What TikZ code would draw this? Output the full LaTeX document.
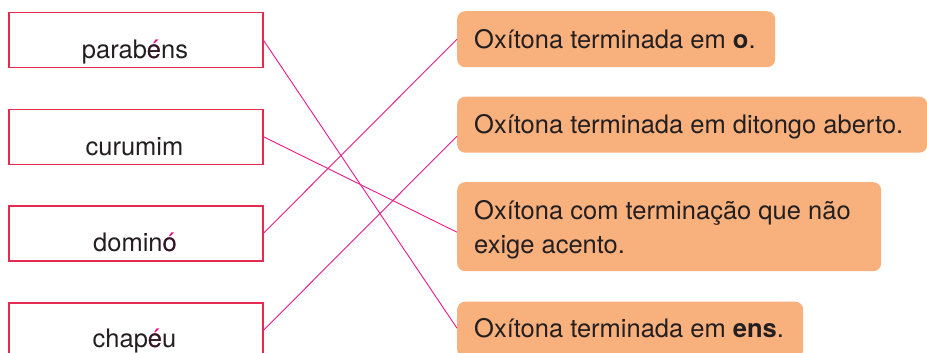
\documentclass[tikz,border=0pt]{standalone}
\usepackage{fontspec}
\setmainfont{TeX Gyre Heros}
\usetikzlibrary{calc}
\definecolor{boxred}{HTML}{E62B50}
\definecolor{linkpink}{HTML}{E6198A}
\definecolor{accpink}{HTML}{E6007E}
\definecolor{optfill}{HTML}{F8B07D}
\definecolor{txt}{HTML}{231F20}
\newcommand{\pacc}[1]{\rlap{\textcolor{accpink}{#1}}}
\begin{document}
\begin{tikzpicture}[x=1pt,y=-1pt,
  wordbox/.style={draw=boxred, line width=1.5pt, minimum width=254pt, minimum height=55pt, inner sep=0pt, anchor=north west},
  optbox/.style={fill=optfill, rounded corners=8pt, inner sep=0pt, anchor=north west},
  lbl/.style={font=\fontsize{25.5}{34}\selectfont, text=txt, inner sep=0pt},
  link/.style={draw=linkpink, line width=0.9pt}]
\useasboundingbox (0,0) rectangle (927,353);
\clip (0,0) rectangle (927,353);
% left word boxes
\node[wordbox] (l1) at (8,12) {};
\node[wordbox] (l2) at (8,108.5) {};
\node[wordbox] (l3) at (8,205) {};
\node[wordbox] (l4) at (8,302) {};
\node[lbl, anchor=base] (t1) at (135,59) {parab\pacc{é}ens};
\node[lbl, anchor=base] (t2) at (134.5,155) {curumim};
\node[lbl, anchor=base] (t3) at (135,251) {domin\pacc{ó}o};
\node[lbl, anchor=base] (t4) at (134.5,347) {chap\pacc{é}eu};
% right option boxes
\node[optbox, minimum width=318pt, minimum height=56pt] (r1) at (457,11) {};
\node[optbox, minimum width=470pt, minimum height=56pt] (r2) at (457,96.5) {};
\node[optbox, minimum width=424pt, minimum height=89pt] (r3) at (457,182) {};
\node[optbox, minimum width=346pt, minimum height=56pt] (r4) at (457,301.5) {};
\node[lbl, anchor=base west] (o1) at (474,49) {Oxítona terminada em \textbf{o}.};
\node[lbl, anchor=base west] (o2) at (474,133) {Oxítona terminada em ditongo aberto.};
\node[lbl, anchor=base west] (o3a) at (474,219) {Oxítona com terminação que não};
\node[lbl, anchor=base west] (o3b) at (474,253) {exige acento.};
\node[lbl, anchor=base west] (o4) at (474,337) {Oxítona terminada em \textbf{ens}.};
% connectors
\draw[link] (l1.east) -- ($(r4.west)+(0,-1.5)$);
\draw[link] (l2.east) -- ($(r3.west)+(0,5.5)$);
\draw[link] (l3.east) -- (r1.west);
\draw[link] (l4.east) -- ($(r2.west)+(0,11.5)$);
\end{tikzpicture}
\end{document}
